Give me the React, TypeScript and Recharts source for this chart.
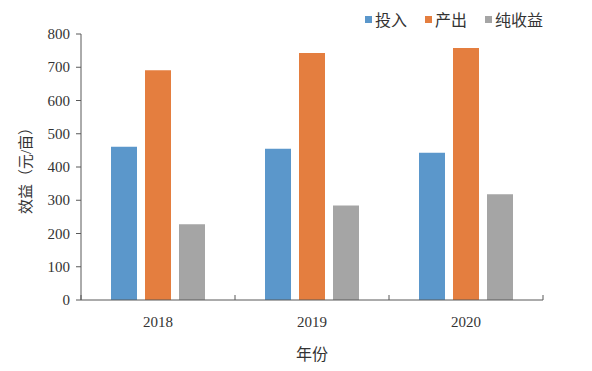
import { BarChart, Bar, XAxis, YAxis, Legend } from "recharts";

const years = ["2018", "2019", "2020"];
const inputCost = [461, 455, 443];
const output = [691, 743, 758];
const netIncome = [228, 284, 318];
const seriesNames = ["投入", "产出", "纯收益"];
const yTicks = [0, 100, 200, 300, 400, 500, 600, 700, 800];

const data = years.map((year, i) => ({
  year,
  投入: inputCost[i],
  产出: output[i],
  纯收益: netIncome[i],
}));

const FONT = "'Liberation Serif', 'Times New Roman', 'Noto Sans CJK SC', serif";
const AXIS = "#595959";

// labels sit at band centres, tick marks at the band edges (Excel style)
const YearTick = (props: any) => {
  const { x, y, payload, index, visibleTicksCount } = props;
  const half = payload.offset || 77;
  const last = index === visibleTicksCount - 1;
  return (
    <g>
      <line x1={x - half} y1={y} x2={x - half} y2={y - 5} stroke={AXIS} />
      {last && <line x1={x + half} y1={y} x2={x + half} y2={y - 5} stroke={AXIS} />}
      <text x={x} y={y + 27} textAnchor="middle" fill="#333" style={{ fontFamily: FONT, fontSize: 15 }}>
        {payload.value}
      </text>
    </g>
  );
};

const ValueTick = (props: any) => {
  const { x, y, payload } = props;
  return (
    <text x={x} y={y + 5} textAnchor="end" fill="#333" style={{ fontFamily: FONT, fontSize: 15 }}>
      {payload.value}
    </text>
  );
};

const LegendRow = ({ payload }: any) => {
  const items = seriesNames
    .map((name) => (payload || []).find((p: any) => p.value === name))
    .filter(Boolean);
  return (
    <div style={{ display: "flex", justifyContent: "flex-end", gap: 18, fontFamily: FONT, fontSize: 16, color: "#333" }}>
      {items.map((p: any) => (
        <span key={p.value} style={{ display: "flex", alignItems: "center", gap: 3 }}>
          <span style={{ width: 7, height: 7, background: p.color, display: "inline-block" }} />
          {p.value}
        </span>
      ))}
    </div>
  );
};

export default function App() {
  return (
    <div style={{ position: "absolute", left: 0, top: 0, width: 592, height: 371, background: "#fff", fontFamily: FONT }}>
      <BarChart
        width={592}
        height={371}
        data={data}
        margin={{ top: 34, right: 49, bottom: 0, left: 21 }}
        barCategoryGap={30}
        barGap={8}
      >
        <XAxis
          dataKey="year"
          height={71}
          axisLine={{ stroke: AXIS }}
          tickLine={false}
          tickSize={0}
          tickMargin={0}
          tick={<YearTick />}
          label={{ value: "年份", position: "insideBottom", offset: 11, fontSize: 16, fontFamily: FONT, fill: "#333" }}
        />
        <YAxis
          width={60}
          domain={[0, 800]}
          ticks={yTicks}
          interval={0}
          axisLine={{ stroke: AXIS }}
          tickLine={{ stroke: AXIS }}
          tickSize={5}
          tickMargin={6}
          tick={<ValueTick />}
          label={{
            value: "效益（元/亩）",
            angle: -90,
            position: "insideLeft",
            offset: 5,
            textAnchor: "middle",
            fontSize: 15,
            fontFamily: FONT,
            fill: "#333",
          }}
        />
        <Legend
          verticalAlign="middle"
          align="center"
          content={<LegendRow />}
          wrapperStyle={{ top: 7, left: 0, width: 543 }}
        />
        <Bar dataKey="投入" fill="#5B97CB" isAnimationActive={false} />
        <Bar dataKey="产出" fill="#E47E3F" isAnimationActive={false} />
        <Bar dataKey="纯收益" fill="#A5A5A5" isAnimationActive={false} />
      </BarChart>
    </div>
  );
}
